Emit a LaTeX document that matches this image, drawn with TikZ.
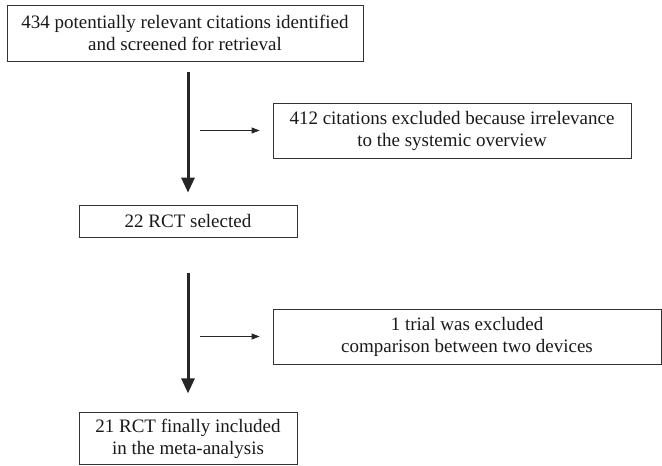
\documentclass[tikz,border=0pt]{standalone}
\usepackage{fontspec}
\setmainfont{Liberation Serif}
\usepackage{tikz}
\usetikzlibrary{arrows.meta, positioning, calc}

\begin{document}
\begin{tikzpicture}[
  x=1pt, y=-1pt,
  font=\fontsize{19}{22}\selectfont,
  box/.style={draw=black!80, line width=0.8pt, align=center, inner sep=0pt,
              text=black!90},
  mainarrow/.style={-{Triangle[length=15pt,width=13pt]}, line width=3pt, black!85},
  sidearrow/.style={-{Triangle[length=8pt,width=6pt]}, line width=0.8pt, black!85},
]
\useasboundingbox (0,0) rectangle (662,466);

% Main flow
\node[box, minimum width=356pt, minimum height=56pt] (start) at (185,33)
  {434 potentially relevant citations identified\\and screened for retrieval};
\node[box, minimum width=218pt, minimum height=32pt] (sel) at (188,221)
  {22 RCT selected};
\node[box, minimum width=218pt, minimum height=52pt, below=175pt of sel.south, anchor=north] (final)
  {21 RCT finally included\\in the meta-analysis};

% Exclusion boxes
\node[box, minimum width=358pt, minimum height=55pt] (excl1) at (452,130.5)
  {412 citations excluded because irrelevance\\to the systemic overview};
\node[box, minimum width=388pt, minimum height=55pt] (excl2) at (467,336.5)
  {1 trial was excluded\\comparison between two devices};

% Arrows
\draw[mainarrow, shorten <=11pt, shorten >=12pt] (sel.north |- start.south) -- (sel.north);
\draw[mainarrow, shorten <=36pt, shorten >=19pt] (sel.south) -- (final.north);
\draw[sidearrow, shorten >=13pt] ([xshift=12pt]sel.north |- excl1.west) -- (excl1.west);
\draw[sidearrow, shorten >=13pt] ([xshift=12pt]sel.north |- excl2.west) -- (excl2.west);
\end{tikzpicture}
\end{document}
